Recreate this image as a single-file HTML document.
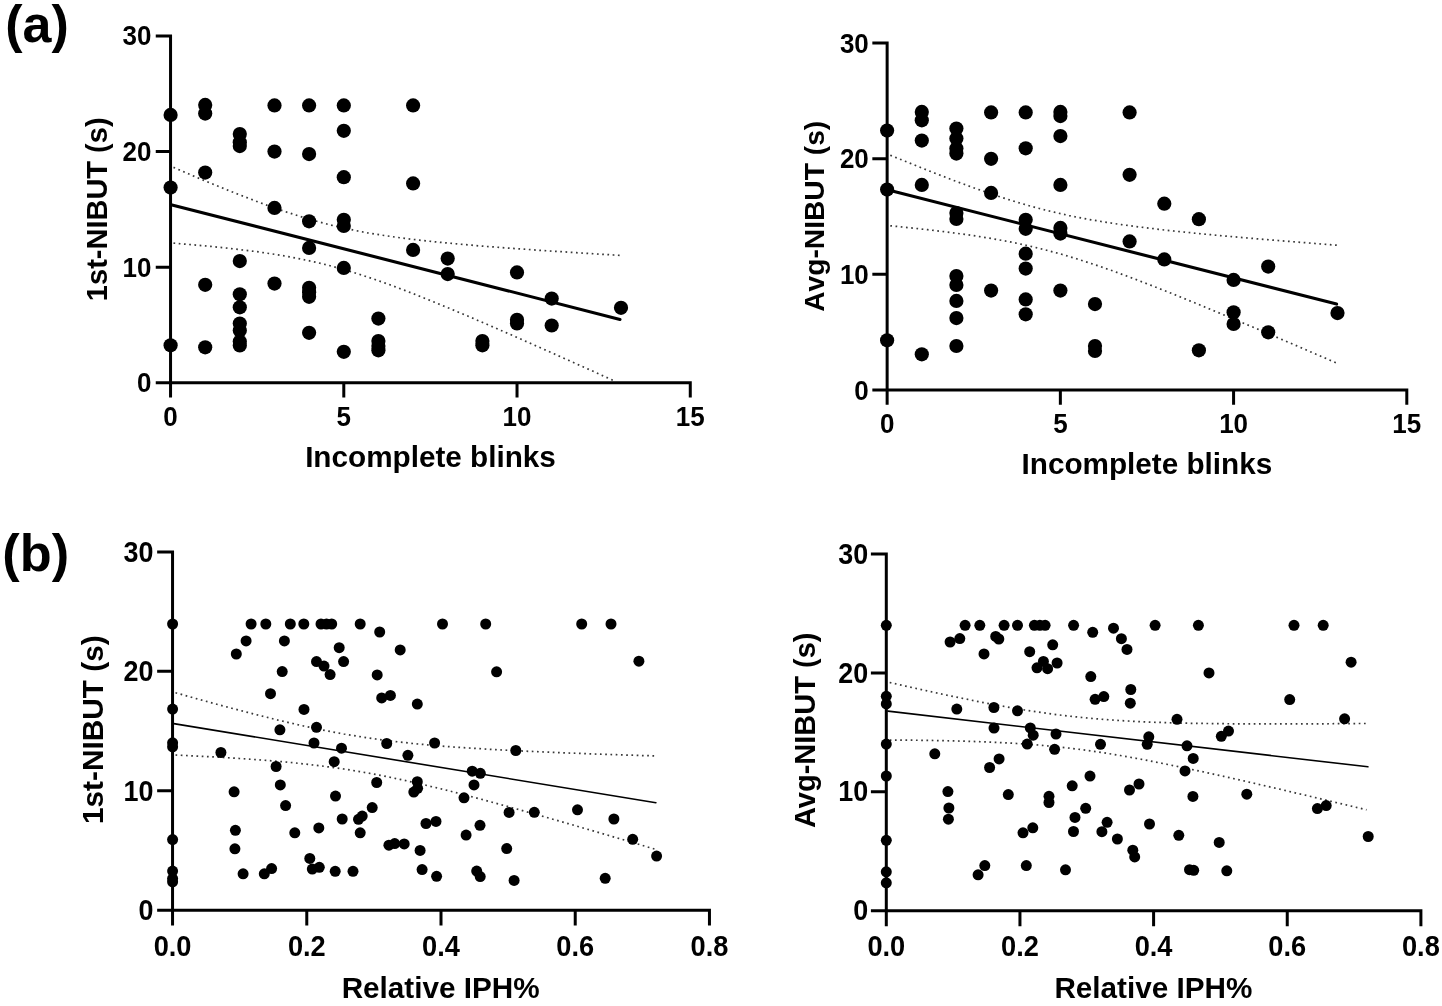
<!DOCTYPE html>
<html><head><meta charset="utf-8"><title>Figure</title>
<style>
html,body{margin:0;padding:0;background:#fff;}
body{width:1442px;height:1006px;overflow:hidden;}
svg{display:block;filter:grayscale(1);font-family:"Liberation Sans",sans-serif;font-weight:bold;fill:#000;}
.ci{fill:none;stroke:#383838;stroke-width:1.7;stroke-dasharray:1.7 3.55;}
</style></head>
<body>
<svg width="1442" height="1006" viewBox="0 0 1442 1006">
<rect width="1442" height="1006" fill="#fff"/>
<path class="ci" d="M173.5 167.4 L181.0 170.6 L188.4 173.8 L195.9 177.0 L203.3 180.1 L210.8 183.2 L218.3 186.3 L225.7 189.3 L233.2 192.3 L240.7 195.2 L248.1 198.1 L255.6 201.0 L263.0 203.8 L270.5 206.5 L278.0 209.1 L285.4 211.7 L292.9 214.1 L300.3 216.5 L307.8 218.8 L315.3 220.9 L322.7 222.9 L330.2 224.9 L337.7 226.7 L345.1 228.3 L352.6 229.9 L360.0 231.4 L367.5 232.8 L375.0 234.0 L382.4 235.2 L389.9 236.3 L397.4 237.4 L404.8 238.4 L412.3 239.3 L419.7 240.2 L427.2 241.0 L434.7 241.8 L442.1 242.5 L449.6 243.2 L457.0 243.9 L464.5 244.6 L472.0 245.2 L479.4 245.9 L486.9 246.5 L494.4 247.0 L501.8 247.6 L509.3 248.2 L516.7 248.7 L524.2 249.2 L531.7 249.7 L539.1 250.3 L546.6 250.8 L554.0 251.3 L561.5 251.7 L569.0 252.2 L576.4 252.7 L583.9 253.2 L591.4 253.6 L598.8 254.1 L606.3 254.5 L613.7 255.0 L621.2 255.4"/><path class="ci" d="M173.5 243.1 L181.0 243.8 L188.4 244.4 L195.9 245.1 L203.3 245.7 L210.8 246.4 L218.3 247.2 L225.7 248.0 L233.2 248.8 L240.7 249.7 L248.1 250.6 L255.6 251.5 L263.0 252.6 L270.5 253.7 L278.0 254.8 L285.4 256.1 L292.9 257.5 L300.3 258.9 L307.8 260.5 L315.3 262.1 L322.7 263.9 L330.2 265.8 L337.7 267.8 L345.1 270.0 L352.6 272.2 L360.0 274.5 L367.5 277.0 L375.0 279.5 L382.4 282.1 L389.9 284.8 L397.4 287.6 L404.8 290.4 L412.3 293.3 L419.7 296.3 L427.2 299.3 L434.7 302.3 L442.1 305.4 L449.6 308.4 L457.0 311.6 L464.5 314.7 L472.0 317.9 L479.4 321.1 L486.9 324.3 L494.4 327.5 L501.8 330.8 L509.3 334.0 L516.7 337.3 L524.2 340.6 L531.7 343.9 L539.1 347.2 L546.6 350.5 L554.0 353.8 L561.5 357.2 L569.0 360.5 L576.4 363.8 L583.9 367.2 L591.4 370.5 L598.8 373.9 L606.3 377.3 L613.7 380.6"/>
<g><circle cx="170.6" cy="114.9" r="7.1"/><circle cx="170.6" cy="187.6" r="7.1"/><circle cx="170.6" cy="345.3" r="7.1"/><circle cx="205.2" cy="104.9" r="7.1"/><circle cx="205.2" cy="113.6" r="7.1"/><circle cx="205.2" cy="172.6" r="7.1"/><circle cx="205.2" cy="284.8" r="7.1"/><circle cx="205.2" cy="347.3" r="7.1"/><circle cx="239.8" cy="134.1" r="7.1"/><circle cx="239.8" cy="142.3" r="7.1"/><circle cx="239.8" cy="146.1" r="7.1"/><circle cx="239.8" cy="261.1" r="7.1"/><circle cx="239.8" cy="294.3" r="7.1"/><circle cx="239.8" cy="307.3" r="7.1"/><circle cx="239.8" cy="323.5" r="7.1"/><circle cx="239.8" cy="330.5" r="7.1"/><circle cx="239.8" cy="341.5" r="7.1"/><circle cx="239.8" cy="345.5" r="7.1"/><circle cx="274.5" cy="105.4" r="7.1"/><circle cx="274.5" cy="151.6" r="7.1"/><circle cx="274.5" cy="207.9" r="7.1"/><circle cx="274.5" cy="283.6" r="7.1"/><circle cx="309.1" cy="105.4" r="7.1"/><circle cx="309.1" cy="154.1" r="7.1"/><circle cx="309.1" cy="221.3" r="7.1"/><circle cx="309.1" cy="247.9" r="7.1"/><circle cx="309.1" cy="287.8" r="7.1"/><circle cx="309.1" cy="292.3" r="7.1"/><circle cx="309.1" cy="296.8" r="7.1"/><circle cx="309.1" cy="332.8" r="7.1"/><circle cx="343.8" cy="105.4" r="7.1"/><circle cx="343.8" cy="130.8" r="7.1"/><circle cx="343.8" cy="177.2" r="7.1"/><circle cx="343.8" cy="219.8" r="7.1"/><circle cx="343.8" cy="225.9" r="7.1"/><circle cx="343.8" cy="267.9" r="7.1"/><circle cx="343.8" cy="351.8" r="7.1"/><circle cx="378.4" cy="318.6" r="7.1"/><circle cx="378.4" cy="341.0" r="7.1"/><circle cx="378.4" cy="346.0" r="7.1"/><circle cx="378.4" cy="350.3" r="7.1"/><circle cx="413.1" cy="105.4" r="7.1"/><circle cx="413.1" cy="183.4" r="7.1"/><circle cx="413.1" cy="249.9" r="7.1"/><circle cx="447.7" cy="258.6" r="7.1"/><circle cx="447.7" cy="274.1" r="7.1"/><circle cx="482.4" cy="341.0" r="7.1"/><circle cx="482.4" cy="345.3" r="7.1"/><circle cx="517.0" cy="272.4" r="7.1"/><circle cx="517.0" cy="319.8" r="7.1"/><circle cx="517.0" cy="323.5" r="7.1"/><circle cx="551.7" cy="298.6" r="7.1"/><circle cx="551.7" cy="325.5" r="7.1"/><circle cx="621.0" cy="307.8" r="7.1"/></g>
<line x1="172" y1="204.9" x2="620" y2="319.4" stroke="#000" stroke-width="3.1" stroke-linecap="round"/>
<path d="M170.55 34.4 V397.55 M155.75 382.75 H691.77 M343.79 382.75 V397.55 M517.03 382.75 V397.55 M690.27 382.75 V397.55 M155.75 267.13 H170.55 M155.75 151.52 H170.55 M155.75 35.9 H170.55" fill="none" stroke="#000" stroke-width="3.0"/>
<text transform="translate(170.55,426.3) scale(1,1.085)" font-size="26" text-anchor="middle">0</text><text transform="translate(343.79,426.3) scale(1,1.085)" font-size="26" text-anchor="middle">5</text><text transform="translate(517.03,426.3) scale(1,1.085)" font-size="26" text-anchor="middle">10</text><text transform="translate(690.27,426.3) scale(1,1.085)" font-size="26" text-anchor="middle">15</text>
<text transform="translate(151.5,392.2) scale(1,1.085)" font-size="26" text-anchor="end">0</text><text transform="translate(151.5,276.6) scale(1,1.085)" font-size="26" text-anchor="end">10</text><text transform="translate(151.5,161.0) scale(1,1.085)" font-size="26" text-anchor="end">20</text><text transform="translate(151.5,45.4) scale(1,1.085)" font-size="26" text-anchor="end">30</text>
<text x="430.5" y="466.7" font-size="29.7" text-anchor="middle">Incomplete blinks</text>
<text transform="translate(107,209.3) rotate(-90)" font-size="29"  text-anchor="middle">1st-NIBUT (s)</text>
<text x="5.2" y="42" font-size="52">(a)</text>
<path class="ci" d="M890.3 155.2 L897.8 158.3 L905.2 161.3 L912.7 164.3 L920.1 167.3 L927.6 170.3 L935.0 173.2 L942.5 176.1 L949.9 179.0 L957.4 181.8 L964.8 184.5 L972.3 187.3 L979.7 189.9 L987.2 192.5 L994.6 195.1 L1002.1 197.5 L1009.6 199.9 L1017.0 202.2 L1024.5 204.4 L1031.9 206.5 L1039.4 208.5 L1046.8 210.4 L1054.3 212.2 L1061.7 213.9 L1069.2 215.6 L1076.6 217.1 L1084.1 218.5 L1091.5 219.9 L1099.0 221.1 L1106.4 222.3 L1113.9 223.5 L1121.4 224.6 L1128.8 225.6 L1136.3 226.6 L1143.7 227.5 L1151.2 228.4 L1158.6 229.3 L1166.1 230.2 L1173.5 231.0 L1181.0 231.8 L1188.4 232.5 L1195.9 233.3 L1203.3 234.0 L1210.8 234.7 L1218.2 235.4 L1225.7 236.1 L1233.2 236.7 L1240.6 237.4 L1248.1 238.0 L1255.5 238.7 L1263.0 239.3 L1270.4 239.9 L1277.9 240.5 L1285.3 241.1 L1292.8 241.7 L1300.2 242.3 L1307.7 242.9 L1315.1 243.5 L1322.6 244.1 L1330.0 244.7 L1337.5 245.2"/><path class="ci" d="M890.3 225.8 L897.8 226.5 L905.2 227.3 L912.7 228.1 L920.1 228.9 L927.6 229.7 L935.0 230.6 L942.5 231.5 L949.9 232.4 L957.4 233.4 L964.8 234.4 L972.3 235.5 L979.7 236.6 L987.2 237.8 L994.6 239.1 L1002.1 240.4 L1009.6 241.8 L1017.0 243.3 L1024.5 244.9 L1031.9 246.6 L1039.4 248.4 L1046.8 250.3 L1054.3 252.3 L1061.7 254.3 L1069.2 256.5 L1076.6 258.8 L1084.1 261.2 L1091.5 263.6 L1099.0 266.1 L1106.4 268.7 L1113.9 271.3 L1121.4 274.1 L1128.8 276.8 L1136.3 279.6 L1143.7 282.5 L1151.2 285.4 L1158.6 288.3 L1166.1 291.2 L1173.5 294.2 L1181.0 297.2 L1188.4 300.3 L1195.9 303.3 L1203.3 306.4 L1210.8 309.5 L1218.2 312.6 L1225.7 315.7 L1233.2 318.8 L1240.6 321.9 L1248.1 325.1 L1255.5 328.2 L1263.0 331.4 L1270.4 334.6 L1277.9 337.8 L1285.3 341.0 L1292.8 344.1 L1300.2 347.3 L1307.7 350.6 L1315.1 353.8 L1322.6 357.0 L1330.0 360.2 L1337.5 363.4"/>
<g><circle cx="887.1" cy="130.6" r="7.1"/><circle cx="887.1" cy="189.6" r="7.1"/><circle cx="887.1" cy="340.3" r="7.1"/><circle cx="921.8" cy="111.9" r="7.1"/><circle cx="921.8" cy="120.3" r="7.1"/><circle cx="921.8" cy="140.6" r="7.1"/><circle cx="921.8" cy="184.9" r="7.1"/><circle cx="921.8" cy="354.3" r="7.1"/><circle cx="956.4" cy="128.6" r="7.1"/><circle cx="956.4" cy="138.6" r="7.1"/><circle cx="956.4" cy="148.6" r="7.1"/><circle cx="956.4" cy="153.6" r="7.1"/><circle cx="956.4" cy="213.0" r="7.1"/><circle cx="956.4" cy="218.9" r="7.1"/><circle cx="956.4" cy="276.1" r="7.1"/><circle cx="956.4" cy="284.9" r="7.1"/><circle cx="956.4" cy="300.9" r="7.1"/><circle cx="956.4" cy="318.1" r="7.1"/><circle cx="956.4" cy="346.0" r="7.1"/><circle cx="991.1" cy="112.4" r="7.1"/><circle cx="991.1" cy="158.8" r="7.1"/><circle cx="991.1" cy="192.9" r="7.1"/><circle cx="991.1" cy="290.6" r="7.1"/><circle cx="1025.7" cy="112.4" r="7.1"/><circle cx="1025.7" cy="148.3" r="7.1"/><circle cx="1025.7" cy="219.8" r="7.1"/><circle cx="1025.7" cy="228.8" r="7.1"/><circle cx="1025.7" cy="253.7" r="7.1"/><circle cx="1025.7" cy="268.6" r="7.1"/><circle cx="1025.7" cy="299.4" r="7.1"/><circle cx="1025.7" cy="314.3" r="7.1"/><circle cx="1060.4" cy="111.9" r="7.1"/><circle cx="1060.4" cy="116.1" r="7.1"/><circle cx="1060.4" cy="136.1" r="7.1"/><circle cx="1060.4" cy="184.9" r="7.1"/><circle cx="1060.4" cy="227.9" r="7.1"/><circle cx="1060.4" cy="233.6" r="7.1"/><circle cx="1060.4" cy="290.6" r="7.1"/><circle cx="1095.0" cy="304.1" r="7.1"/><circle cx="1095.0" cy="346.0" r="7.1"/><circle cx="1095.0" cy="351.0" r="7.1"/><circle cx="1129.6" cy="112.4" r="7.1"/><circle cx="1129.6" cy="174.8" r="7.1"/><circle cx="1129.6" cy="241.4" r="7.1"/><circle cx="1164.3" cy="203.7" r="7.1"/><circle cx="1164.3" cy="259.4" r="7.1"/><circle cx="1198.9" cy="219.2" r="7.1"/><circle cx="1198.9" cy="350.3" r="7.1"/><circle cx="1233.6" cy="279.9" r="7.1"/><circle cx="1233.6" cy="312.3" r="7.1"/><circle cx="1233.6" cy="324.0" r="7.1"/><circle cx="1268.2" cy="266.6" r="7.1"/><circle cx="1268.2" cy="332.3" r="7.1"/><circle cx="1337.5" cy="313.1" r="7.1"/></g>
<line x1="888.3" y1="190" x2="1336.6" y2="304.1" stroke="#000" stroke-width="3.1" stroke-linecap="round"/>
<path d="M887.14 41.5 V404.8 M872.34 390.0 H1408.3 M1060.36 390.0 V404.8 M1233.58 390.0 V404.8 M1406.8 390.0 V404.8 M872.34 274.33 H887.14 M872.34 158.67 H887.14 M872.34 43.0 H887.14" fill="none" stroke="#000" stroke-width="3.0"/>
<text transform="translate(887.14,433.0) scale(1,1.085)" font-size="26" text-anchor="middle">0</text><text transform="translate(1060.36,433.0) scale(1,1.085)" font-size="26" text-anchor="middle">5</text><text transform="translate(1233.58,433.0) scale(1,1.085)" font-size="26" text-anchor="middle">10</text><text transform="translate(1406.8,433.0) scale(1,1.085)" font-size="26" text-anchor="middle">15</text>
<text transform="translate(868.8,399.5) scale(1,1.085)" font-size="26" text-anchor="end">0</text><text transform="translate(868.8,283.8) scale(1,1.085)" font-size="26" text-anchor="end">10</text><text transform="translate(868.8,168.2) scale(1,1.085)" font-size="26" text-anchor="end">20</text><text transform="translate(868.8,52.5) scale(1,1.085)" font-size="26" text-anchor="end">30</text>
<text x="1146.9" y="473.6" font-size="29.7" text-anchor="middle">Incomplete blinks</text>
<text transform="translate(824.3,216.3) rotate(-90)" font-size="28.2" style="font-kerning:none" text-anchor="middle">Avg-NIBUT (s)</text>
<path class="ci" d="M175.5 692.8 L183.5 695.0 L191.5 697.3 L199.5 699.5 L207.6 701.7 L215.6 703.9 L223.6 706.1 L231.6 708.2 L239.6 710.3 L247.6 712.4 L255.6 714.5 L263.6 716.5 L271.7 718.5 L279.7 720.5 L287.7 722.3 L295.7 724.2 L303.7 726.0 L311.7 727.7 L319.7 729.4 L327.8 731.0 L335.8 732.5 L343.8 734.0 L351.8 735.3 L359.8 736.6 L367.8 737.9 L375.8 739.0 L383.8 740.1 L391.9 741.1 L399.9 742.1 L407.9 742.9 L415.9 743.8 L423.9 744.5 L431.9 745.3 L439.9 745.9 L448.0 746.6 L456.0 747.2 L464.0 747.7 L472.0 748.2 L480.0 748.7 L488.0 749.2 L496.0 749.7 L504.0 750.1 L512.1 750.5 L520.1 750.9 L528.1 751.3 L536.1 751.6 L544.1 752.0 L552.1 752.3 L560.1 752.7 L568.2 753.0 L576.2 753.3 L584.2 753.6 L592.2 753.9 L600.2 754.2 L608.2 754.4 L616.2 754.7 L624.2 755.0 L632.3 755.2 L640.3 755.5 L648.3 755.7 L656.3 756.0"/><path class="ci" d="M175.5 755.0 L183.5 755.4 L191.5 755.8 L199.5 756.2 L207.6 756.6 L215.6 757.0 L223.6 757.5 L231.6 758.0 L239.6 758.5 L247.6 759.0 L255.6 759.6 L263.6 760.2 L271.7 760.8 L279.7 761.5 L287.7 762.2 L295.7 763.0 L303.7 763.9 L311.7 764.8 L319.7 765.7 L327.8 766.8 L335.8 767.9 L343.8 769.0 L351.8 770.3 L359.8 771.6 L367.8 773.0 L375.8 774.5 L383.8 776.0 L391.9 777.7 L399.9 779.3 L407.9 781.1 L415.9 782.9 L423.9 784.7 L431.9 786.7 L439.9 788.6 L448.0 790.6 L456.0 792.6 L464.0 794.7 L472.0 796.8 L480.0 798.9 L488.0 801.1 L496.0 803.3 L504.0 805.5 L512.1 807.7 L520.1 809.9 L528.1 812.2 L536.1 814.4 L544.1 816.7 L552.1 819.0 L560.1 821.3 L568.2 823.6 L576.2 826.0 L584.2 828.3 L592.2 830.6 L600.2 833.0 L608.2 835.3 L616.2 837.7 L624.2 840.0 L632.3 842.4 L640.3 844.8 L648.3 847.2 L656.3 849.5"/>
<g><circle cx="172.6" cy="624.0" r="5.5"/><circle cx="172.6" cy="709.1" r="5.5"/><circle cx="172.6" cy="742.8" r="5.5"/><circle cx="172.6" cy="746.8" r="5.5"/><circle cx="172.6" cy="839.6" r="5.5"/><circle cx="172.6" cy="871.1" r="5.5"/><circle cx="172.6" cy="878.6" r="5.5"/><circle cx="172.6" cy="881.8" r="5.5"/><circle cx="251.1" cy="624.0" r="5.5"/><circle cx="265.8" cy="624.0" r="5.5"/><circle cx="290.3" cy="624.0" r="5.5"/><circle cx="303.8" cy="624.0" r="5.5"/><circle cx="321.0" cy="624.0" r="5.5"/><circle cx="326.5" cy="624.0" r="5.5"/><circle cx="331.7" cy="624.0" r="5.5"/><circle cx="360.2" cy="624.0" r="5.5"/><circle cx="442.5" cy="624.0" r="5.5"/><circle cx="485.7" cy="624.0" r="5.5"/><circle cx="581.7" cy="624.0" r="5.5"/><circle cx="611.0" cy="624.0" r="5.5"/><circle cx="246.1" cy="640.9" r="5.5"/><circle cx="236.3" cy="654.0" r="5.5"/><circle cx="284.4" cy="640.9" r="5.5"/><circle cx="282.2" cy="671.6" r="5.5"/><circle cx="270.5" cy="693.7" r="5.5"/><circle cx="304.0" cy="709.4" r="5.5"/><circle cx="279.9" cy="729.8" r="5.5"/><circle cx="316.5" cy="727.3" r="5.5"/><circle cx="314.0" cy="743.0" r="5.5"/><circle cx="316.5" cy="661.6" r="5.5"/><circle cx="324.0" cy="666.1" r="5.5"/><circle cx="330.1" cy="674.6" r="5.5"/><circle cx="339.2" cy="647.7" r="5.5"/><circle cx="343.6" cy="661.6" r="5.5"/><circle cx="341.5" cy="748.2" r="5.5"/><circle cx="379.7" cy="632.0" r="5.5"/><circle cx="400.2" cy="649.9" r="5.5"/><circle cx="377.2" cy="674.9" r="5.5"/><circle cx="381.7" cy="697.9" r="5.5"/><circle cx="390.4" cy="695.4" r="5.5"/><circle cx="417.3" cy="704.1" r="5.5"/><circle cx="386.7" cy="743.5" r="5.5"/><circle cx="434.6" cy="743.0" r="5.5"/><circle cx="407.9" cy="755.3" r="5.5"/><circle cx="220.9" cy="752.5" r="5.5"/><circle cx="276.1" cy="766.5" r="5.5"/><circle cx="334.2" cy="761.7" r="5.5"/><circle cx="280.3" cy="784.9" r="5.5"/><circle cx="234.1" cy="791.8" r="5.5"/><circle cx="285.6" cy="805.6" r="5.5"/><circle cx="335.5" cy="796.1" r="5.5"/><circle cx="376.7" cy="782.5" r="5.5"/><circle cx="417.3" cy="781.7" r="5.5"/><circle cx="417.6" cy="788.3" r="5.5"/><circle cx="413.8" cy="792.1" r="5.5"/><circle cx="472.2" cy="771.2" r="5.5"/><circle cx="480.3" cy="773.3" r="5.5"/><circle cx="474.0" cy="784.9" r="5.5"/><circle cx="464.0" cy="797.8" r="5.5"/><circle cx="509.1" cy="812.4" r="5.5"/><circle cx="372.2" cy="807.6" r="5.5"/><circle cx="342.2" cy="819.0" r="5.5"/><circle cx="362.2" cy="816.1" r="5.5"/><circle cx="358.5" cy="819.3" r="5.5"/><circle cx="318.8" cy="827.9" r="5.5"/><circle cx="294.8" cy="832.8" r="5.5"/><circle cx="235.4" cy="830.3" r="5.5"/><circle cx="360.2" cy="832.8" r="5.5"/><circle cx="426.0" cy="823.5" r="5.5"/><circle cx="436.0" cy="821.4" r="5.5"/><circle cx="480.0" cy="825.3" r="5.5"/><circle cx="466.1" cy="835.1" r="5.5"/><circle cx="234.9" cy="848.8" r="5.5"/><circle cx="388.9" cy="845.2" r="5.5"/><circle cx="394.7" cy="843.6" r="5.5"/><circle cx="404.2" cy="843.9" r="5.5"/><circle cx="420.1" cy="850.4" r="5.5"/><circle cx="506.7" cy="848.6" r="5.5"/><circle cx="309.8" cy="858.4" r="5.5"/><circle cx="312.3" cy="869.1" r="5.5"/><circle cx="319.3" cy="867.3" r="5.5"/><circle cx="243.1" cy="873.8" r="5.5"/><circle cx="264.3" cy="873.8" r="5.5"/><circle cx="271.6" cy="868.6" r="5.5"/><circle cx="335.2" cy="871.3" r="5.5"/><circle cx="353.0" cy="871.3" r="5.5"/><circle cx="422.1" cy="869.6" r="5.5"/><circle cx="436.6" cy="876.3" r="5.5"/><circle cx="476.7" cy="871.1" r="5.5"/><circle cx="480.2" cy="876.6" r="5.5"/><circle cx="514.1" cy="880.4" r="5.5"/><circle cx="638.9" cy="661.2" r="5.5"/><circle cx="496.6" cy="671.8" r="5.5"/><circle cx="515.8" cy="750.5" r="5.5"/><circle cx="534.3" cy="812.3" r="5.5"/><circle cx="577.5" cy="809.8" r="5.5"/><circle cx="613.9" cy="819.0" r="5.5"/><circle cx="632.7" cy="839.3" r="5.5"/><circle cx="656.6" cy="856.1" r="5.5"/><circle cx="605.2" cy="878.3" r="5.5"/></g>
<line x1="173.7" y1="723.6" x2="655.9" y2="802.7" stroke="#000" stroke-width="1.6" stroke-linecap="round"/>
<path d="M172.55 550.4 V925.55 M157.15 910.15 H710.95 M306.78 910.15 V925.55 M441.0 910.15 V925.55 M575.23 910.15 V925.55 M709.45 910.15 V925.55 M157.15 790.73 H172.55 M157.15 671.32 H172.55 M157.15 551.9 H172.55" fill="none" stroke="#000" stroke-width="3.0"/>
<text transform="translate(172.55,955.8) scale(1,1.105)" font-size="27.2" text-anchor="middle">0.0</text><text transform="translate(306.78,955.8) scale(1,1.105)" font-size="27.2" text-anchor="middle">0.2</text><text transform="translate(441.0,955.8) scale(1,1.105)" font-size="27.2" text-anchor="middle">0.4</text><text transform="translate(575.23,955.8) scale(1,1.105)" font-size="27.2" text-anchor="middle">0.6</text><text transform="translate(709.45,955.8) scale(1,1.105)" font-size="27.2" text-anchor="middle">0.8</text>
<text transform="translate(153.5,920.0) scale(1,1.105)" font-size="26.9" text-anchor="end">0</text><text transform="translate(153.5,800.6) scale(1,1.105)" font-size="26.9" text-anchor="end">10</text><text transform="translate(153.5,681.2) scale(1,1.105)" font-size="26.9" text-anchor="end">20</text><text transform="translate(153.5,561.8) scale(1,1.105)" font-size="26.9" text-anchor="end">30</text>
<text x="440.65" y="997.9" font-size="29.7" text-anchor="middle">Relative IPH%</text>
<text transform="translate(103,729.7) rotate(-90)" font-size="29.8"  text-anchor="middle">1st-NIBUT (s)</text>
<text x="2.3" y="571.4" font-size="52.3">(b)</text>
<path class="ci" d="M889.7 682.5 L897.6 684.3 L905.6 686.1 L913.5 687.9 L921.5 689.6 L929.4 691.4 L937.4 693.1 L945.3 694.8 L953.3 696.5 L961.2 698.1 L969.2 699.7 L977.1 701.3 L985.1 702.9 L993.0 704.4 L1001.0 705.9 L1008.9 707.3 L1016.8 708.6 L1024.8 710.0 L1032.7 711.2 L1040.7 712.4 L1048.6 713.5 L1056.6 714.6 L1064.5 715.6 L1072.5 716.5 L1080.4 717.3 L1088.4 718.1 L1096.3 718.8 L1104.3 719.5 L1112.2 720.0 L1120.2 720.6 L1128.1 721.0 L1136.0 721.5 L1144.0 721.8 L1151.9 722.2 L1159.9 722.4 L1167.8 722.7 L1175.8 722.9 L1183.7 723.1 L1191.7 723.3 L1199.6 723.4 L1207.6 723.5 L1215.5 723.6 L1223.5 723.7 L1231.4 723.8 L1239.4 723.8 L1247.3 723.9 L1255.2 723.9 L1263.2 723.9 L1271.1 723.9 L1279.1 723.9 L1287.0 723.9 L1295.0 723.9 L1302.9 723.9 L1310.9 723.9 L1318.8 723.8 L1326.8 723.8 L1334.7 723.7 L1342.7 723.7 L1350.6 723.6 L1358.6 723.5 L1366.5 723.5"/><path class="ci" d="M889.7 740.1 L897.6 740.1 L905.6 740.2 L913.5 740.2 L921.5 740.3 L929.4 740.4 L937.4 740.6 L945.3 740.7 L953.3 740.9 L961.2 741.1 L969.2 741.3 L977.1 741.6 L985.1 741.9 L993.0 742.2 L1001.0 742.6 L1008.9 743.0 L1016.8 743.5 L1024.8 744.0 L1032.7 744.6 L1040.7 745.2 L1048.6 746.0 L1056.6 746.7 L1064.5 747.6 L1072.5 748.5 L1080.4 749.5 L1088.4 750.6 L1096.3 751.7 L1104.3 752.9 L1112.2 754.2 L1120.2 755.5 L1128.1 756.9 L1136.0 758.3 L1144.0 759.8 L1151.9 761.3 L1159.9 762.9 L1167.8 764.5 L1175.8 766.1 L1183.7 767.7 L1191.7 769.4 L1199.6 771.1 L1207.6 772.8 L1215.5 774.6 L1223.5 776.3 L1231.4 778.1 L1239.4 779.9 L1247.3 781.7 L1255.2 783.5 L1263.2 785.4 L1271.1 787.2 L1279.1 789.0 L1287.0 790.9 L1295.0 792.8 L1302.9 794.6 L1310.9 796.5 L1318.8 798.4 L1326.8 800.3 L1334.7 802.2 L1342.7 804.1 L1350.6 806.0 L1358.6 807.9 L1366.5 809.8"/>
<g><circle cx="886.3" cy="625.3" r="5.5"/><circle cx="886.3" cy="696.3" r="5.5"/><circle cx="886.3" cy="703.9" r="5.5"/><circle cx="886.3" cy="744.1" r="5.5"/><circle cx="886.3" cy="776.0" r="5.5"/><circle cx="886.3" cy="840.3" r="5.5"/><circle cx="886.3" cy="871.8" r="5.5"/><circle cx="886.3" cy="882.8" r="5.5"/><circle cx="965.1" cy="625.3" r="5.5"/><circle cx="979.8" cy="625.3" r="5.5"/><circle cx="1004.1" cy="625.3" r="5.5"/><circle cx="1017.5" cy="625.3" r="5.5"/><circle cx="1034.4" cy="625.3" r="5.5"/><circle cx="1039.9" cy="625.3" r="5.5"/><circle cx="1045.1" cy="625.3" r="5.5"/><circle cx="1073.6" cy="625.3" r="5.5"/><circle cx="1155.1" cy="625.3" r="5.5"/><circle cx="1198.4" cy="625.3" r="5.5"/><circle cx="1294.0" cy="625.3" r="5.5"/><circle cx="1323.2" cy="625.3" r="5.5"/><circle cx="950.1" cy="642.0" r="5.5"/><circle cx="959.8" cy="638.6" r="5.5"/><circle cx="995.7" cy="636.4" r="5.5"/><circle cx="998.8" cy="639.0" r="5.5"/><circle cx="984.0" cy="653.9" r="5.5"/><circle cx="1029.7" cy="651.7" r="5.5"/><circle cx="1052.7" cy="644.8" r="5.5"/><circle cx="1037.0" cy="667.8" r="5.5"/><circle cx="1043.4" cy="661.4" r="5.5"/><circle cx="1047.6" cy="668.7" r="5.5"/><circle cx="1057.1" cy="663.0" r="5.5"/><circle cx="1092.7" cy="632.3" r="5.5"/><circle cx="1113.5" cy="628.2" r="5.5"/><circle cx="1121.4" cy="638.7" r="5.5"/><circle cx="1127.0" cy="649.4" r="5.5"/><circle cx="1090.8" cy="676.6" r="5.5"/><circle cx="1095.1" cy="699.3" r="5.5"/><circle cx="1103.8" cy="696.6" r="5.5"/><circle cx="1130.8" cy="689.5" r="5.5"/><circle cx="1130.3" cy="703.2" r="5.5"/><circle cx="1209.0" cy="672.9" r="5.5"/><circle cx="956.8" cy="709.1" r="5.5"/><circle cx="993.9" cy="707.5" r="5.5"/><circle cx="1017.5" cy="710.8" r="5.5"/><circle cx="994.0" cy="728.1" r="5.5"/><circle cx="1030.3" cy="727.9" r="5.5"/><circle cx="1033.2" cy="735.2" r="5.5"/><circle cx="1056.0" cy="734.0" r="5.5"/><circle cx="1027.2" cy="744.1" r="5.5"/><circle cx="1054.6" cy="749.3" r="5.5"/><circle cx="1100.5" cy="744.3" r="5.5"/><circle cx="1177.0" cy="719.3" r="5.5"/><circle cx="1148.8" cy="736.8" r="5.5"/><circle cx="1147.2" cy="744.3" r="5.5"/><circle cx="1187.0" cy="745.8" r="5.5"/><circle cx="1221.3" cy="736.3" r="5.5"/><circle cx="1228.5" cy="731.1" r="5.5"/><circle cx="1193.2" cy="758.4" r="5.5"/><circle cx="1185.0" cy="770.9" r="5.5"/><circle cx="934.8" cy="753.8" r="5.5"/><circle cx="999.1" cy="758.9" r="5.5"/><circle cx="989.6" cy="767.5" r="5.5"/><circle cx="1090.0" cy="776.1" r="5.5"/><circle cx="1072.2" cy="785.8" r="5.5"/><circle cx="1139.0" cy="784.0" r="5.5"/><circle cx="1129.5" cy="790.0" r="5.5"/><circle cx="1192.9" cy="796.4" r="5.5"/><circle cx="947.9" cy="791.6" r="5.5"/><circle cx="1008.3" cy="794.6" r="5.5"/><circle cx="1049.0" cy="796.3" r="5.5"/><circle cx="1049.0" cy="802.5" r="5.5"/><circle cx="948.9" cy="808.0" r="5.5"/><circle cx="948.4" cy="819.2" r="5.5"/><circle cx="1085.7" cy="808.3" r="5.5"/><circle cx="1075.0" cy="817.4" r="5.5"/><circle cx="1107.1" cy="822.3" r="5.5"/><circle cx="1149.5" cy="824.0" r="5.5"/><circle cx="1032.8" cy="827.8" r="5.5"/><circle cx="1023.0" cy="832.8" r="5.5"/><circle cx="1073.5" cy="831.5" r="5.5"/><circle cx="1101.9" cy="831.7" r="5.5"/><circle cx="1117.4" cy="839.0" r="5.5"/><circle cx="1178.8" cy="835.3" r="5.5"/><circle cx="1132.8" cy="850.2" r="5.5"/><circle cx="1134.7" cy="856.9" r="5.5"/><circle cx="1219.2" cy="842.4" r="5.5"/><circle cx="984.8" cy="865.6" r="5.5"/><circle cx="978.1" cy="874.8" r="5.5"/><circle cx="1026.3" cy="865.6" r="5.5"/><circle cx="1065.5" cy="869.8" r="5.5"/><circle cx="1189.5" cy="869.7" r="5.5"/><circle cx="1193.7" cy="870.3" r="5.5"/><circle cx="1226.8" cy="870.8" r="5.5"/><circle cx="1351.1" cy="662.2" r="5.5"/><circle cx="1289.7" cy="699.6" r="5.5"/><circle cx="1344.6" cy="718.8" r="5.5"/><circle cx="1246.8" cy="794.2" r="5.5"/><circle cx="1326.2" cy="805.6" r="5.5"/><circle cx="1317.4" cy="808.6" r="5.5"/><circle cx="1368.2" cy="836.5" r="5.5"/></g>
<line x1="888" y1="711.1" x2="1367.9" y2="766.8" stroke="#000" stroke-width="1.6" stroke-linecap="round"/>
<path d="M886.3 552.5 V926.1999999999999 M870.9 910.8 H1422.4 M1019.95 910.8 V926.1999999999999 M1153.6 910.8 V926.1999999999999 M1287.25 910.8 V926.1999999999999 M1420.9 910.8 V926.1999999999999 M870.9 791.87 H886.3 M870.9 672.93 H886.3 M870.9 554.0 H886.3" fill="none" stroke="#000" stroke-width="3.0"/>
<text transform="translate(886.3,955.8) scale(1,1.105)" font-size="27.2" text-anchor="middle">0.0</text><text transform="translate(1019.95,955.8) scale(1,1.105)" font-size="27.2" text-anchor="middle">0.2</text><text transform="translate(1153.6,955.8) scale(1,1.105)" font-size="27.2" text-anchor="middle">0.4</text><text transform="translate(1287.25,955.8) scale(1,1.105)" font-size="27.2" text-anchor="middle">0.6</text><text transform="translate(1420.9,955.8) scale(1,1.105)" font-size="27.2" text-anchor="middle">0.8</text>
<text transform="translate(868.1,920.3) scale(1,1.105)" font-size="26.9" text-anchor="end">0</text><text transform="translate(868.1,801.4) scale(1,1.105)" font-size="26.9" text-anchor="end">10</text><text transform="translate(868.1,682.5) scale(1,1.105)" font-size="26.9" text-anchor="end">20</text><text transform="translate(868.1,563.5) scale(1,1.105)" font-size="26.9" text-anchor="end">30</text>
<text x="1153.4" y="997.9" font-size="29.7" text-anchor="middle">Relative IPH%</text>
<text transform="translate(814.6,730.3) rotate(-90)" font-size="29"  text-anchor="middle">Avg-NIBUT (s)</text>
</svg>
</body></html>
